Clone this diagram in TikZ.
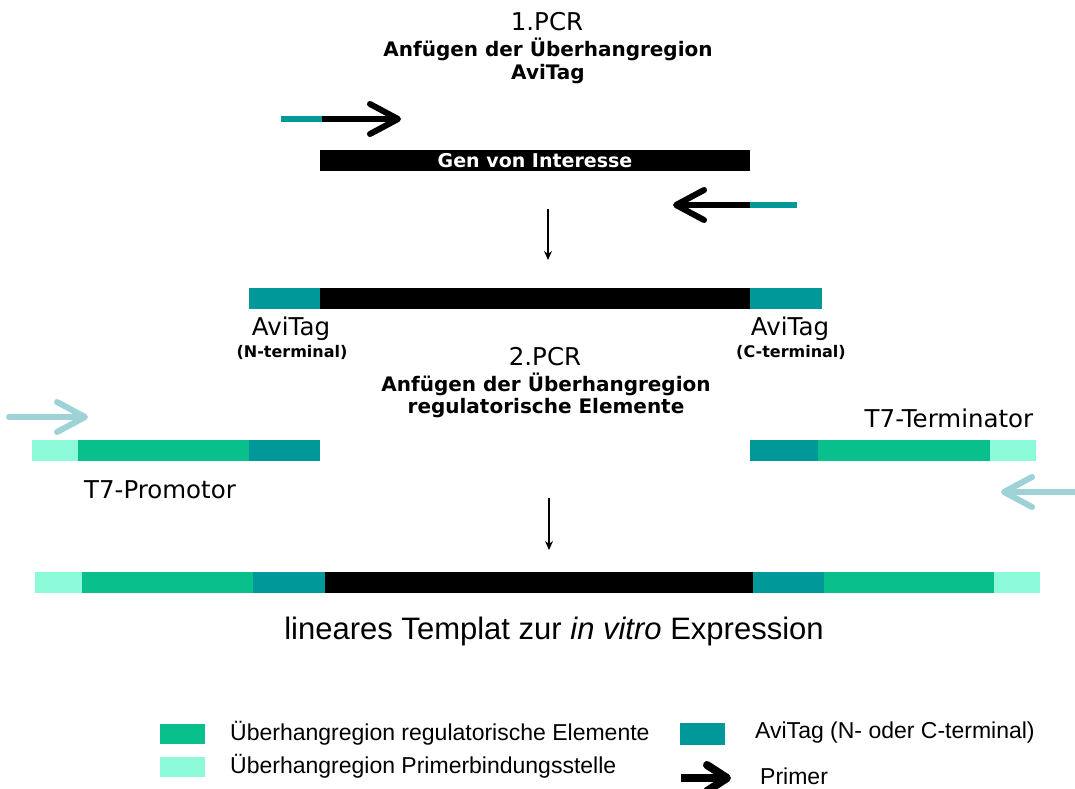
\documentclass[tikz,border=0pt]{standalone}
\usepackage{fontspec}
\setmainfont{DejaVu Sans}
\newfontfamily\capfont{Liberation Sans}
\usetikzlibrary{arrows.meta}
\definecolor{avi}{HTML}{009899}
\definecolor{reg}{HTML}{09C08C}
\definecolor{pbs}{HTML}{8CFAD8}
\definecolor{lprimer}{HTML}{9DD3D6}
\newcommand{\fs}[1]{\fontsize{#1}{#1}\selectfont}
\begin{document}
\begin{tikzpicture}[x=1pt,y=-1pt,
  seg/.style={fill=#1, draw=none, inner sep=0pt, outer sep=0pt,
              minimum height=21pt, anchor=west},
  primline/.style={line width=6pt, line cap=round, line join=round},
  primtip/.style={-{Straight Barb[length=28pt,width=30pt,line cap=round,line join=round]}},
  downarrow/.style={line width=2pt, -{Stealth[length=9pt,width=8pt]}},
  lighttxt/.style={font=\fs{24.5}},
  boldtxt/.style={font=\bfseries\fs{20}},
  smallbold/.style={font=\bfseries\fs{16}},
  legtxt/.style={font=\capfont\fs{23}, anchor=west, inner sep=0pt}]
\useasboundingbox (0,0) rectangle (1075,788);

% ---------- 1. PCR ----------
\node[lighttxt] (t1) at (547,22) {1.PCR};
\node[boldtxt] (t1a) at (548,49) {Anfügen der Überhangregion};
\node[boldtxt] (t1b) at (548,74) {AviTag};

% forward primer with AviTag overhang
\coordinate (f1s) at (281,119);
\coordinate (f1m) at (322,119);
\coordinate (f1t) at (401,119);
\draw[primline, avi, line cap=butt] (f1s) -- (f1m);
\draw[primline, black, primtip, line cap=butt] (f1m) -- (f1t);

% gene of interest
\node[seg=black, minimum width=430pt, text=white, font=\bfseries\fs{19}] (gene) at (320,160.5) {Gen von Interesse};

% reverse primer with AviTag overhang
\coordinate (r1s) at (797,205);
\coordinate (r1m) at (750,205);
\coordinate (r1t) at (673,205);
\draw[primline, avi, line cap=butt] (r1s) -- (r1m);
\draw[primline, black, primtip, line cap=butt] (r1m) -- (r1t);

% step arrow
\coordinate (d1s) at (548,209);
\coordinate (d1e) at (548,260);
\draw[downarrow] (d1s) -- (d1e);

% ---------- product of the first PCR ----------
\node[seg=avi, minimum width=71pt] (p1n) at (249,298) {};
\node[seg=black, minimum width=430pt] (p1g) at (320,298) {};
\node[seg=avi, minimum width=72pt] (p1c) at (750,298) {};

\node[lighttxt] (lbn) at (291,329) {AviTag};
\node[smallbold] (lbn2) at (292,352) {(N-terminal)};
\node[lighttxt] (lbc) at (790,329) {AviTag};
\node[smallbold] (lbc2) at (791,352) {(C-terminal)};

% ---------- 2. PCR ----------
\node[lighttxt] (t2) at (545,357) {2.PCR};
\node[boldtxt] (t2a) at (546,384) {Anfügen der Überhangregion};
\node[boldtxt] (t2b) at (546,408) {regulatorische Elemente};

% promoter fragment and its primer
\coordinate (lps) at (9,417);
\coordinate (lpt) at (88,417);
\draw[primline, lprimer, primtip] (lps) -- (lpt);
\node[seg=pbs, minimum width=46pt] (pr1) at (32,450.5) {};
\node[seg=reg, minimum width=171pt] (pr2) at (78,450.5) {};
\node[seg=avi, minimum width=71pt] (pr3) at (249,450.5) {};
\node[lighttxt] (lpro) at (160,490) {T7-Promotor};

% terminator fragment and its primer
\node[lighttxt] (lter) at (949,418) {T7-Terminator};
\node[seg=avi, minimum width=68pt] (te1) at (750,450.5) {};
\node[seg=reg, minimum width=172pt] (te2) at (818,450.5) {};
\node[seg=pbs, minimum width=46pt] (te3) at (990,450.5) {};
\coordinate (rps) at (1075,492);
\coordinate (rpt) at (1001,492);
\draw[primline, lprimer, primtip] (rps) -- (rpt);

% step arrow
\coordinate (d2s) at (549,498);
\coordinate (d2e) at (549,550);
\draw[downarrow] (d2s) -- (d2e);

% ---------- final linear template ----------
\node[seg=pbs, minimum width=47pt] (f1) at (35,582) {};
\node[seg=reg, minimum width=171pt] (f2) at (82,582.5) {};
\node[seg=avi, minimum width=72pt] (f3) at (253,582.5) {};
\node[seg=black, minimum width=428pt] (f4) at (325,582.5) {};
\node[seg=avi, minimum width=71pt] (f5) at (753,582.5) {};
\node[seg=reg, minimum width=170pt] (f6) at (824,582.5) {};
\node[seg=pbs, minimum width=46pt] (f7) at (994,582) {};

\node[font=\capfont\fs{31}] (cap) at (554,631) {lineares Templat zur \textit{in vitro} Expression};

% ---------- legend ----------
\node[seg=reg, minimum width=45pt, minimum height=20pt] (lg1) at (160,734) {};
\node[legtxt] (lg1t) at (230,733) {Überhangregion regulatorische Elemente};
\node[seg=pbs, minimum width=45pt, minimum height=20pt] (lg2) at (160,767) {};
\node[legtxt] (lg2t) at (230,766) {Überhangregion Primerbindungsstelle};
\node[seg=avi, minimum width=45pt, minimum height=22pt] (lg3) at (680,734) {};
\node[legtxt] (lg3t) at (755,733) {AviTag (N- oder C-terminal)};
\coordinate (lgas) at (681,778);
\coordinate (lgat) at (731,778);
\draw[line width=8pt, line join=round, -{Straight Barb[length=20pt,width=26pt,line cap=round,line join=round]}] (lgas) -- (lgat);
\node[legtxt] (lg4t) at (760,776) {Primer};
\end{tikzpicture}
\end{document}
